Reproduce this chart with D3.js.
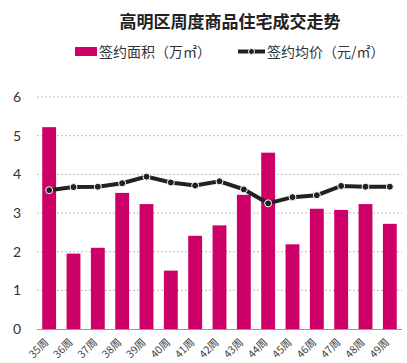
<script src="https://d3js.org/d3.v7.min.js"></script>
<style>
    body { margin: 0; background: #fff; }
    text { font-family: "Noto Sans CJK SC", "Noto Sans", sans-serif; }
</style>
<svg width="407" height="363"></svg>
<script>
    var width = 407;
    var height = 363;
    var margin = { top: 97, right: 5, bottom: 34, left: 37 };

    // data
    var weeks = ['35周', '36周', '37周', '38周', '39周', '40周', '41周', '42周',
        '43周', '44周', '45周', '46周', '47周', '48周', '49周'];
    var area = [5.22, 1.95, 2.10, 3.52, 3.23, 1.51, 2.41, 2.68, 3.47, 4.56, 2.19, 3.11, 3.08, 3.23, 2.72];
    var price = [3.59, 3.67, 3.68, 3.77, 3.94, 3.79, 3.71, 3.82, 3.61, 3.25, 3.41, 3.46, 3.70, 3.68, 3.68];
    var yTicks = [0, 1, 2, 3, 4, 5, 6];

    var barColor = '#cc0066';
    var lineColor = '#222';

    var svg = d3.select('svg');

    var x = d3.scaleBand()
        .domain(weeks)
        .range([margin.left, width - margin.right])
        .paddingInner(0.43)
        .paddingOuter(0.215);

    var y = d3.scaleLinear()
        .domain([0, 6])
        .range([height - margin.bottom, margin.top]);

    // grid
    svg.append('g')
        .selectAll('line')
        .data(yTicks.slice(1))
        .join('line')
        .attr('x1', margin.left)
        .attr('x2', width - margin.right)
        .attr('y1', d => y(d))
        .attr('y2', d => y(d))
        .attr('stroke', '#bbb')
        .attr('stroke-dasharray', '2,2')
        .attr('stroke-width', 1);

    // y tick labels
    svg.append('g')
        .selectAll('text')
        .data(yTicks)
        .join('text')
        .attr('x', 17)
        .attr('y', d => y(d) + 5)
        .attr('text-anchor', 'middle')
        .attr('font-size', 14)
        .attr('fill', '#333')
        .style('font-family', 'Lato, "Noto Sans", sans-serif')
        .text(d => d);

    // bars
    svg.append('g')
        .selectAll('rect')
        .data(area)
        .join('rect')
        .attr('x', (d, i) => x(weeks[i]))
        .attr('y', d => y(d))
        .attr('width', x.bandwidth())
        .attr('height', d => y(0) - y(d))
        .attr('fill', barColor);

    // baseline
    svg.append('line')
        .attr('x1', margin.left)
        .attr('x2', width - margin.right)
        .attr('y1', y(0) + 0.5)
        .attr('y2', y(0) + 0.5)
        .attr('stroke', '#999')
        .attr('stroke-width', 1);

    // x labels
    svg.append('g')
        .selectAll('text')
        .data(weeks)
        .join('text')
        .attr('transform', d => `translate(${x(d) + x.bandwidth() / 2},${y(0) + 14}) rotate(-45)`)
        .attr('text-anchor', 'end')
        .attr('font-size', 10.5)
        .attr('fill', '#444')
        .text(d => d);

    // price line
    var line = d3.line()
        .x((d, i) => x(weeks[i]) + x.bandwidth() / 2)
        .y(d => y(d));

    svg.append('path')
        .datum(price)
        .attr('d', line)
        .attr('fill', 'none')
        .attr('stroke', lineColor)
        .attr('stroke-width', 4);

    svg.append('g')
        .selectAll('circle')
        .data(price)
        .join('circle')
        .attr('cx', (d, i) => x(weeks[i]) + x.bandwidth() / 2)
        .attr('cy', d => y(d))
        .attr('r', 3.5)
        .attr('fill', lineColor)
        .attr('stroke', '#fff')
        .attr('stroke-width', 1);

    // title
    svg.append('text')
        .attr('x', 230)
        .attr('y', 28)
        .attr('text-anchor', 'middle')
        .attr('font-size', 17)
        .attr('font-weight', 'bold')
        .attr('fill', '#222')
        .text('高明区周度商品住宅成交走势');

    // legend
    var legend = svg.append('g').attr('font-size', 14).attr('fill', '#333');
    legend.append('rect')
        .attr('x', 75).attr('y', 47)
        .attr('width', 22).attr('height', 9)
        .attr('fill', barColor);
    legend.append('text')
        .attr('x', 99).attr('y', 57)
        .text('签约面积（万㎡）');
    legend.append('line')
        .attr('x1', 238).attr('x2', 265)
        .attr('y1', 51.5).attr('y2', 51.5)
        .attr('stroke', lineColor).attr('stroke-width', 4);
    legend.append('circle')
        .attr('cx', 251.5).attr('cy', 51.5).attr('r', 3)
        .attr('fill', lineColor).attr('stroke', '#fff').attr('stroke-width', 1);
    legend.append('text')
        .attr('x', 267).attr('y', 57)
        .text('签约均价（元/㎡）');
</script>
